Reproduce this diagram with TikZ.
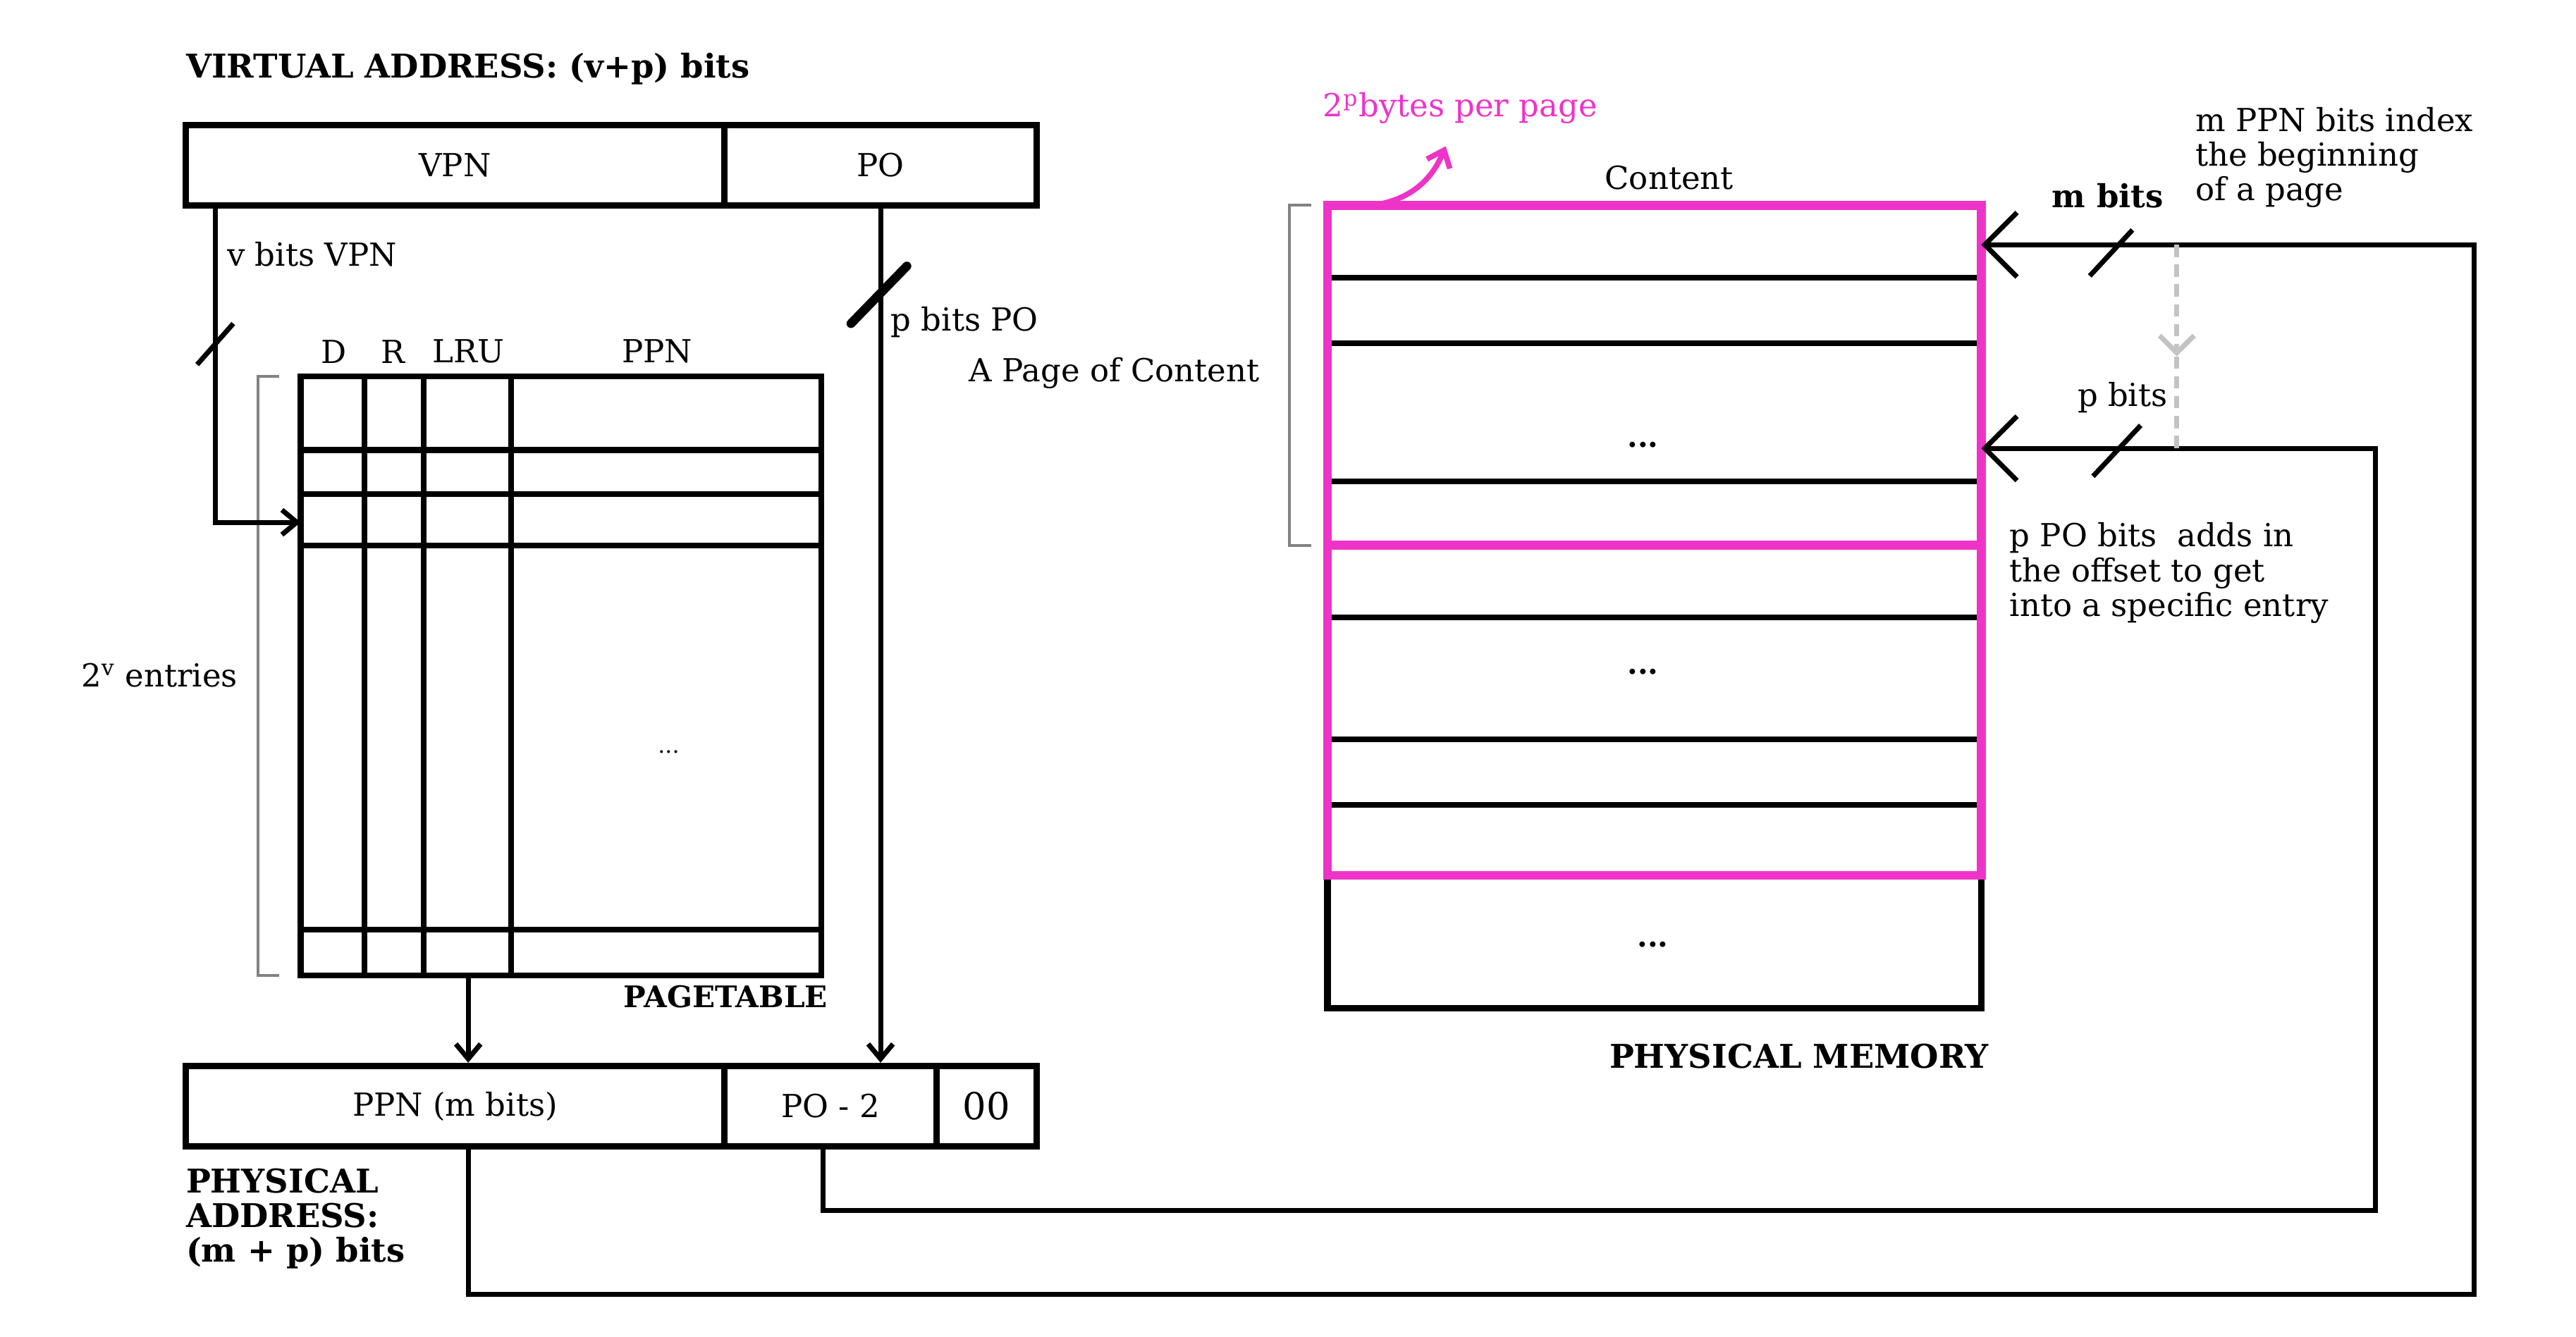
\documentclass[tikz,border=0pt]{standalone}
\usepackage{fontspec}
\setmainfont{DejaVu Serif}
\usetikzlibrary{arrows.meta,calc}
\definecolor{pagepink}{RGB}{238,52,200}
\definecolor{bracegray}{RGB}{130,130,130}
\definecolor{hintgray}{RGB}{195,195,195}
\newdimen\pxu \pxu=0.023304cm

\begin{document}
\begin{tikzpicture}[x=0.023304cm, y=0.023304cm,
    every node/.style={font=\fontsize{12.8}{14}\selectfont, inner sep=0pt},
    field/.style={draw, line width=2.6pt, minimum height=49\pxu},
    heading/.style={font=\fontsize{13.2}{14}\selectfont\bfseries},
    wire/.style={line width=2pt},
    grid/.style={line width=2.3pt},
    bitslash/.style={line width=2pt},
    brace/.style={draw=bracegray, line width=1.2pt},
    smalltip/.style={-{Straight Barb[length=6pt,width=10pt]}},
    bigtip/.style={-{Straight Barb[length=13pt,width=26pt]}}]
  \useasboundingbox (0,0) rectangle (1568,-814);
  % virtual address
  \node[heading, anchor=west] (vatitle) at (113,-42) {VIRTUAL ADDRESS: (v+p) bits};
  \node[field, minimum width=328\pxu] (vpn) at (277,-100.5) {VPN};
  \node[field, minimum width=190\pxu] (vapo) at (536,-100.5) {PO};
  % page table
  \node[draw, grid, minimum width=317\pxu, minimum height=365\pxu] (ptab) at (341.5,-411.5) {};
  \foreach \x in {222,258,311}{\draw[grid] (\x,-229) -- (\x,-594);}
  \foreach \y in {274,301,332,566}{\draw[grid] (183,-\y) -- (500,-\y);}
  \node (hd) at (203,-214) {D};
  \node (hr) at (239,-214) {R};
  \node (hlru) at (285,-214) {LRU};
  \node (hppn) at (400,-214) {PPN};
  \node[font=\fontsize{9}{10}\selectfont] (ptdots) at (407,-458) {...};
  \node[heading, font=\fontsize{12}{13}\selectfont\bfseries, anchor=east] (pttitle) at (504,-607) {PAGETABLE};
  \draw[brace] (170,-229) -- (157,-229) -- (157,-594) -- (170,-594);
  \node (entries) at (97,-411) {2\textsuperscript{v} entries};
  % physical address
  \node[field, minimum width=328\pxu] (ppn) at (277,-673.5) {PPN (m bits)};
  \node[field, minimum width=129\pxu] (papo) at (505.5,-673.5) {PO - 2};
  \node[field, minimum width=61\pxu, font=\fontsize{15}{16}\selectfont] (zeros) at (600.5,-673.5) {00};
  \node[heading, anchor=north west, align=left] (patitle) at (113,-711) {PHYSICAL\\ADDRESS:\\(m + p) bits};
  % VPN into page table
  \coordinate (entry) at (183,-318);
  \draw[wire, smalltip] ($(vpn.south west)+(20,0)$) |- (entry);
  \draw[bitslash] (120,-222) -- (142,-197);
  \node[anchor=west] (vbits) at (138,-155) {v bits VPN};
  % PO straight down
  \draw[wire, smalltip] (vapo.south) -- (vapo.south |- papo.north);
  \draw[line width=3.6pt, line cap=round] (518,-197) -- (552,-162);
  \node[anchor=west] (pbits) at (542,-196) {p bits PO};
  % PPN out of page table
  \coordinate (lru) at (285,-594);
  \draw[wire, smalltip] (lru) -- (lru |- ppn.north);
  % physical memory
  \node[draw, line width=2.6pt, minimum width=398\pxu, minimum height=489\pxu] (mem) at (1007,-369.5) {};
  \foreach \y in {169,209,293,376,450,490}{\draw[grid] (810,-\y) -- (1204,-\y);}
  \node[draw=pagepink, line width=3.6pt, minimum width=398\pxu, minimum height=408\pxu] (pagebox) at (1007,-329) {};
  \draw[draw=pagepink, line width=3.6pt] (808,-332) -- (1206,-332);
  \node[font=\fontsize{12}{14}\selectfont\bfseries] (mdots1) at (1000,-271) {...};
  \node[font=\fontsize{12}{14}\selectfont\bfseries] (mdots2) at (1000,-409) {...};
  \node[font=\fontsize{12}{14}\selectfont\bfseries] (mdots3) at (1006,-575) {...};
  \node (content) at (1016,-108) {Content};
  \node[text=pagepink, anchor=west] (perpage) at (805,-66) {2\textsuperscript{p}bytes per page};
  \draw[draw=pagepink, line width=2.2pt, smalltip] (836,-125) .. controls (862,-121) and (873,-106) .. (880,-89);
  \draw[brace] (798,-125) -- (785,-125) -- (785,-332) -- (798,-332);
  \node[anchor=east] (apage) at (767,-227) {A Page of Content};
  \node[heading] (memtitle) at (1095,-643) {PHYSICAL MEMORY};
  % PPN and PO back into memory
  \coordinate (mtop) at (1206,-149);
  \coordinate (ptop) at (1206,-273);
  \coordinate (ppnout) at (285,-698);
  \coordinate (poout) at (501,-698);
  \draw[wire, bigtip] (ppnout) |- (1506,-788) |- (mtop);
  \draw[wire, bigtip] (poout) |- (1446,-737) |- (ptop);
  \draw[bitslash] (1272,-168) -- (1298,-140);
  \draw[bitslash] (1274,-290) -- (1303,-259);
  \node[font=\fontsize{12.8}{14}\selectfont\bfseries] (mbits) at (1283,-119) {m bits};
  \node (pb) at (1292,-242) {p bits};
  \coordinate (hintmid) at (1325,-217);
  \draw[draw=hintgray, line width=2pt, dash pattern=on 5pt off 3pt, -{Straight Barb[length=7pt,width=14pt]}] (1325,-149) -- (hintmid);
  \draw[draw=hintgray, line width=2pt, dash pattern=on 5pt off 3pt] (hintmid) -- (1325,-273);
  \node[anchor=north west, align=left] (mnote) at (1336,-65) {m PPN bits index\\the beginning\\of a page};
  \node[anchor=north west, align=left] (pnote) at (1223,-318) {p PO bits\ \ adds in\\the offset to get\\into a specific entry};
\end{tikzpicture}
\end{document}
